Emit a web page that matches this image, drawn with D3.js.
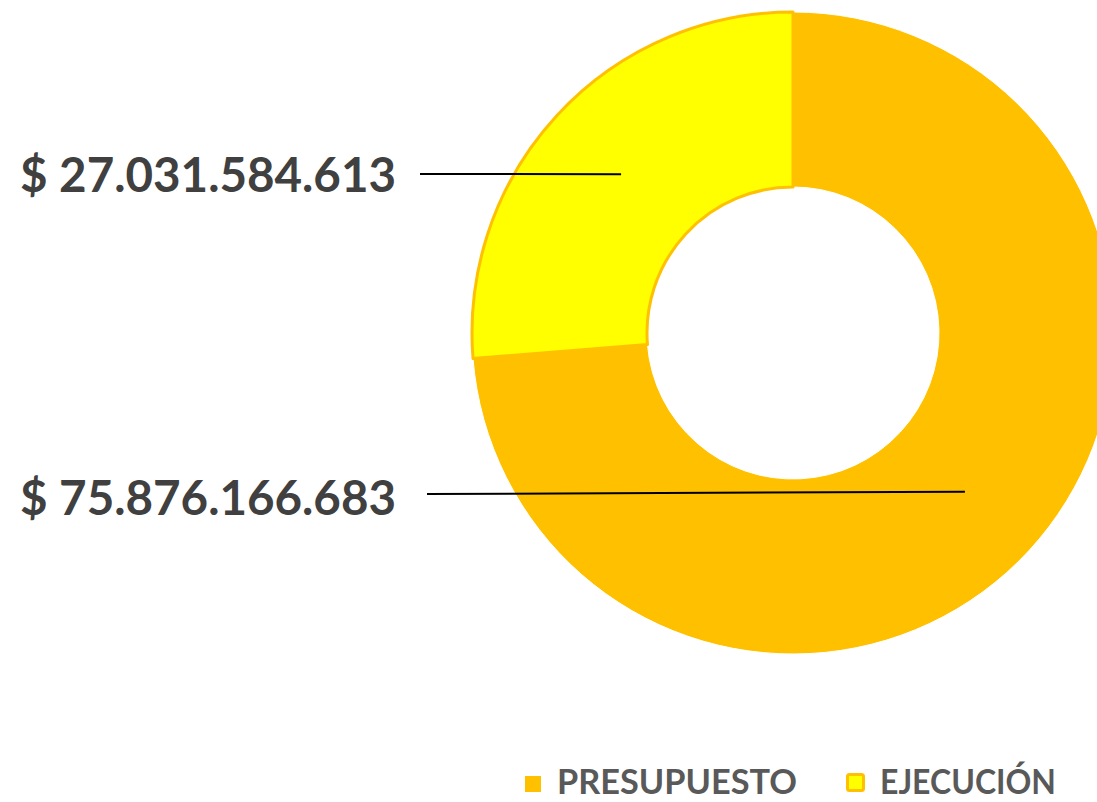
<!DOCTYPE html>
<html>
<head>
<meta charset="utf-8">
<script src="https://cdn.jsdelivr.net/npm/d3@7"></script>
<style>
  html, body { margin: 0; padding: 0; background: #fff; }
  svg { display: block; }
  text { font-family: Lato, "Open Sans", sans-serif; font-weight: 700; }
</style>
</head>
<body>
<div id="chart"></div>
<script>
const categories = ["PRESUPUESTO", "EJECUCIÓN"];
const values = [75876166683, 27031584613];
const labels = ["$ 75.876.166.683", "$ 27.031.584.613"];

const W = 1097, H = 802;
const cx = 793, cy = 333;
const outerR = 321, innerR = 146;

const color = d3.scaleOrdinal().domain(categories).range(["#FFC000", "#FFFF00"]);
const strokeCol = d3.scaleOrdinal().domain(categories).range(["#ffffff", "#FFC000"]);
const strokeW = d3.scaleOrdinal().domain(categories).range([1, 3]);

const data = categories.map((c, i) => ({ cat: c, value: values[i], label: labels[i] }));

const svg = d3.select("#chart").append("svg")
  .attr("width", W)
  .attr("height", H);

const pie = d3.pie().value(d => d.value).sort(null);
const arc = d3.arc().innerRadius(innerR).outerRadius(outerR);
const midArc = d3.arc().innerRadius(234).outerRadius(234);

const arcs = pie(data);

const g = svg.append("g").attr("transform", `translate(${cx},${cy})`);

g.selectAll("path")
  .data(arcs)
  .enter()
  .append("path")
  .attr("d", arc)
  .attr("fill", d => color(d.data.cat))
  .attr("stroke", d => strokeCol(d.data.cat))
  .attr("stroke-width", d => strokeW(d.data.cat))
  .attr("stroke-linejoin", "round");

// etiquetas con línea guía
const labelY = { "PRESUPUESTO": 515, "EJECUCIÓN": 192 };
const lineStartX = { "PRESUPUESTO": 427, "EJECUCIÓN": 420 };
const lineStartY = { "PRESUPUESTO": 494, "EJECUCIÓN": 174 };

arcs.forEach(d => {
  const [mx, my] = midArc.centroid(d);
  svg.append("line")
    .attr("x1", lineStartX[d.data.cat])
    .attr("y1", lineStartY[d.data.cat])
    .attr("x2", cx + mx)
    .attr("y2", cy + my)
    .attr("stroke", "#000")
    .attr("stroke-width", 2);

  svg.append("text")
    .attr("x", 396)
    .attr("y", labelY[d.data.cat])
    .attr("text-anchor", "end")
    .attr("fill", "#404040")
    .attr("font-size", "47px")
    .attr("textLength", 376)
    .attr("lengthAdjust", "spacingAndGlyphs")
    .text(d.data.label);
});

// Leyenda
const legendX = { "PRESUPUESTO": 525, "EJECUCIÓN": 846 };
const legendW = { "PRESUPUESTO": 240, "EJECUCIÓN": 176 };
const legend = svg.append("g");
categories.forEach(c => {
  const x0 = legendX[c];
  const bordered = strokeW(c) === 3;
  const size = bordered ? 19 : 16;
  legend.append("rect")
    .attr("x", x0 + (bordered ? 1.5 : 0))
    .attr("y", (bordered ? 774.5 : 776))
    .attr("width", bordered ? size - 3 : size)
    .attr("height", bordered ? size - 3 : size)
    .attr("rx", bordered ? 2 : 0)
    .attr("fill", color(c))
    .attr("stroke", bordered ? "#FFC000" : "none")
    .attr("stroke-width", bordered ? 3 : 0);
  legend.append("text")
    .attr("x", bordered ? x0 + 34 : x0 + 32)
    .attr("y", 794)
    .attr("fill", "#595959")
    .attr("font-size", "34px")
    .attr("textLength", legendW[c])
    .attr("lengthAdjust", "spacingAndGlyphs")
    .text(c);
});
</script>
</body>
</html>
